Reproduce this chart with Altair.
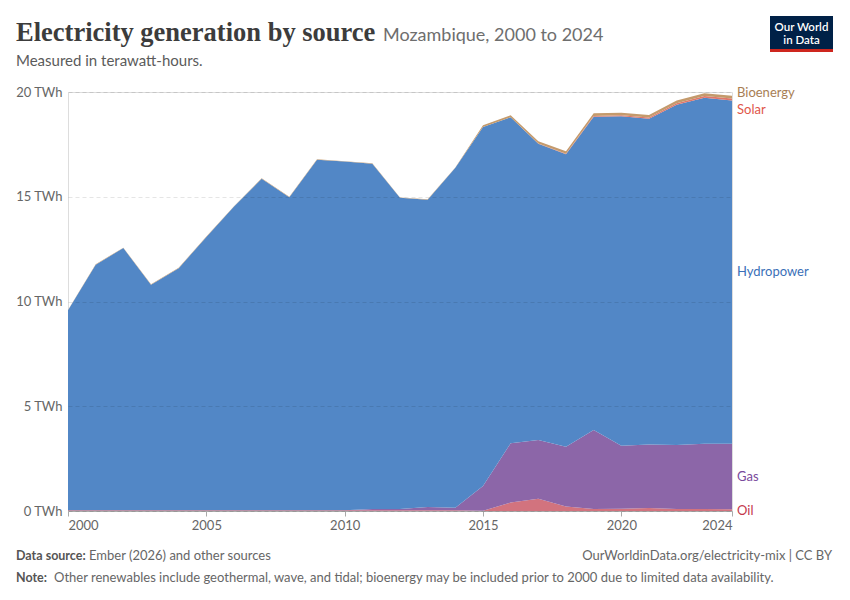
import altair as alt
import pandas as pd

years = [2000, 2001, 2002, 2003, 2004, 2005, 2006, 2007, 2008, 2009, 2010, 2011, 2012,
         2013, 2014, 2015, 2016, 2017, 2018, 2019, 2020, 2021, 2022, 2023, 2024]
oil = [0.03, 0.03, 0.03, 0.03, 0.03, 0.03, 0.03, 0.03, 0.03, 0.03, 0.03, 0.03, 0.03,
       0.03, 0.03, 0.01, 0.40, 0.59, 0.21, 0.10, 0.11, 0.14, 0.10, 0.10, 0.08]
gas = [0.00, 0.00, 0.00, 0.00, 0.00, 0.00, 0.00, 0.00, 0.00, 0.00, 0.01, 0.06, 0.06,
       0.16, 0.12, 1.18, 2.83, 2.80, 2.86, 3.77, 3.01, 3.04, 3.05, 3.11, 3.13]
hydro = [9.55, 11.73, 12.52, 10.77, 11.56, 13.05, 14.50, 15.83, 14.95, 16.74, 16.64, 16.49, 14.86,
         14.67, 16.23, 17.14, 15.56, 14.14, 13.96, 14.95, 15.72, 15.54, 16.24, 16.52, 16.39]
solar = [0.00, 0.00, 0.00, 0.00, 0.00, 0.00, 0.00, 0.00, 0.00, 0.00, 0.00, 0.00, 0.00,
         0.00, 0.00, 0.00, 0.00, 0.01, 0.02, 0.04, 0.05, 0.06, 0.07, 0.08, 0.09]
bio = [0.02, 0.02, 0.02, 0.02, 0.02, 0.02, 0.02, 0.02, 0.02, 0.02, 0.02, 0.02, 0.02,
       0.02, 0.02, 0.08, 0.10, 0.11, 0.12, 0.12, 0.12, 0.12, 0.13, 0.13, 0.13]

sources = ["Oil", "Gas", "Hydropower", "Solar", "Bioenergy"]
fill_colors = ["#d2737e", "#8c66a8", "#5287c6", "#e0776b", "#c49a6c"]
label_colors = ["#c4384c", "#7a4a9c", "#3b70b8", "#e0564a", "#a87e54"]
series = [oil, gas, hydro, solar, bio]
x_ticks = [2000, 2005, 2010, 2015, 2020, 2024]
y_ticks = [0, 5, 10, 15, 20]

rows = []
for k, (name, vals) in enumerate(zip(sources, series)):
    for yr, v in zip(years, vals):
        rows.append({"year": yr, "source": name, "value": v, "ord": k})
df = pd.DataFrame(rows)

FONT = "Lato"
W, H = 664, 419

area = alt.Chart(df).mark_area(opacity=1).encode(
    x=alt.X("year:Q",
            scale=alt.Scale(domain=[2000, 2024], nice=False, zero=False),
            axis=alt.Axis(values=x_ticks, format="d", title=None, grid=False,
                          labelFlush=True, tickSize=5, domainColor="#aaa",
                          tickColor="#aaa", labelColor="#666", labelFont=FONT,
                          labelFontSize=13, labelPadding=3)),
    y=alt.Y("value:Q", stack="zero",
            scale=alt.Scale(domain=[0, 20], nice=False),
            axis=alt.Axis(values=y_ticks, labelExpr="datum.value + ' TWh'", title=None,
                          domain=False, ticks=False, gridDash=[4, 3], gridColor="#000",
                          gridOpacity=0.1, zindex=1, labelColor="#666", labelFont=FONT,
                          labelFontSize=13, labelPadding=6)),
    color=alt.Color("source:N", scale=alt.Scale(domain=sources, range=fill_colors), legend=None),
    order=alt.Order("ord:Q"),
)

# series labels at the right end, placed at the middle of each 2024 band
last = len(years) - 1
cum = 0.0
lab_rows = []
for name, vals, col in zip(sources, series, label_colors):
    mid = cum + vals[last] / 2
    cum += vals[last]
    lab_rows.append({"source": name, "mid": mid, "year": years[last], "col": col})
dys = {"Oil": 1, "Gas": 0, "Hydropower": 0, "Solar": 11, "Bioenergy": -4}

labels = []
for r in lab_rows:
    labels.append(
        alt.Chart(pd.DataFrame([r])).mark_text(
            align="left", baseline="middle", dx=5, dy=dys[r["source"]], font=FONT,
            fontSize=13, color=r["col"]
        ).encode(x="year:Q", y="mid:Q", text="source:N")
    )

one = pd.DataFrame([{"a": 1}])


def txt(s, x, y, size=13, color="#5b5b5b", weight="normal", font=FONT, align="left", baseline="alphabetic"):
    return alt.Chart(one).mark_text(
        text=s, align=align, baseline=baseline, fontSize=size, color=color,
        fontWeight=weight, font=font
    ).encode(x=alt.value(x), y=alt.value(y))


OX, OY = 68, 92  # page position of plot origin
deco = [
    txt("Electricity generation by source", 16 - OX, 41 - OY, size=26.5, color="#3c3c3c",
        weight="bold", font="Liberation Serif"),
    txt("Mozambique, 2000 to 2024", 383 - OX, 41 - OY, size=18, color="#6e6e6e"),
    txt("Measured in terawatt-hours.", 16 - OX, 66 - OY, size=15, color="#5b5b5b"),
    alt.Chart(one).mark_rect(color="#002147").encode(
        x=alt.value(770 - OX), x2=alt.value(833 - OX), y=alt.value(16 - OY), y2=alt.value(49 - OY)),
    alt.Chart(one).mark_rect(color="#ce261e").encode(
        x=alt.value(770 - OX), x2=alt.value(833 - OX), y=alt.value(49 - OY), y2=alt.value(52 - OY)),
    txt("Our World", 801.5 - OX, 31 - OY, size=11.5, color="#ffffff", align="center", weight=600),
    txt("in Data", 801.5 - OX, 44 - OY, size=11.5, color="#ffffff", align="center", weight=600),
    txt("Data source:", 16 - OX, 560 - OY, size=12.5, color="#555", weight="bold"),
    txt("Ember (2026) and other sources", 89 - OX, 560 - OY, color="#666"),
    txt("OurWorldinData.org/electricity-mix | CC BY", 832 - OX, 560 - OY, color="#666", align="right"),
    txt("Note:", 16 - OX, 582 - OY, size=12.5, color="#555", weight="bold"),
    txt("Other renewables include geothermal, wave, and tidal; bioenergy may be included prior to 2000 due to limited data availability.",
        54 - OX, 582 - OY, color="#666"),
]

chart = alt.layer(area, *labels, *deco).properties(
    width=W, height=H,
    padding={"left": 60, "top": 84, "right": 110, "bottom": 81},
    autosize=alt.AutoSizeParams(type="none"),
).configure_view(stroke=None).configure(background="white")

chart.save("out.html", embed_options={"renderer": "svg", "actions": False})
